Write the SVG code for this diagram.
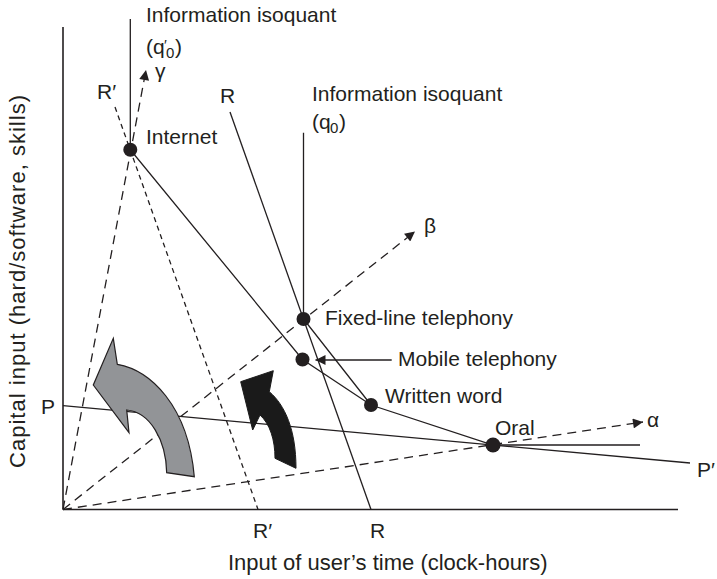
<svg xmlns="http://www.w3.org/2000/svg" width="717" height="579" viewBox="0 0 717 579">
<style>
  .t { font-family: "Liberation Sans", Arial, sans-serif; font-size: 21px; fill: #231f20; }
  .ax { stroke: #231f20; stroke-width: 1.6; fill: none; }
  .ln { stroke: #231f20; stroke-width: 1.3; fill: none; }
  .ray { stroke: #231f20; stroke-width: 1.3; fill: none; stroke-dasharray: 9 6; }
  .rr { stroke: #231f20; stroke-width: 1.3; fill: none; stroke-dasharray: 5 4; }
  .dot { fill: #231f20; }
</style>
<defs>
  <marker id="ah" viewBox="0 0 10 10" refX="10" refY="5" markerWidth="12" markerHeight="10" markerUnits="userSpaceOnUse" orient="auto">
    <path d="M0,0 L10,5 L0,10 Z" fill="#231f20"/>
  </marker>
</defs>
<rect width="717" height="579" fill="#ffffff"/>

<g id="axes">
  <line class="ax" x1="63" y1="27" x2="63" y2="509.5"/>
  <line class="ax" x1="63" y1="509.5" x2="678" y2="509.5"/>
  <text class="t" transform="translate(25,468) rotate(-90)" style="font-size:22px" textLength="373" lengthAdjust="spacing">Capital input (hard/software, skills)</text>
  <text class="t" x="228" y="570" style="font-size:22px">Input of user’s time (clock-hours)</text>
</g>

<g id="connectors">
  <line class="ray" x1="63" y1="509.5" x2="146" y2="70" marker-end="url(#ah)"/>
  <line class="ray" x1="63" y1="509.5" x2="415" y2="231.5" marker-end="url(#ah)"/>
  <line class="ray" x1="63" y1="509.5" x2="643" y2="422" marker-end="url(#ah)"/>
  <line class="rr" x1="115" y1="107" x2="258" y2="509.5"/>
  <line class="ln" x1="230" y1="112" x2="371" y2="509.5"/>
  <line class="ln" x1="63" y1="405.7" x2="690" y2="463"/>
  <polyline class="ln" points="130.3,19 130.3,149.7 302.5,359.5 371,405 493,445 640,445"/>
  <polyline class="ln" points="303.5,132.7 303.5,319 371,405"/>
  <line class="ln" x1="391.7" y1="360" x2="315.5" y2="360" marker-end="url(#ah)"/>
</g>

<g id="arrow-gray">
  <path d="M113.3,338.3 L117.3,364.3 C150,370 188,405 194.3,476.7 L166.7,472.7 C166,440 150,412 126.7,410 L129,432.7 L93.3,385 Z" fill="#929497" stroke="#231f20" stroke-width="1.2" stroke-linejoin="miter"/>
</g>
<g id="arrow-black">
  <path d="M273.3,370.7 L269.3,391.7 C285,405 296,430 296,468.3 L275,458.3 C275,440 270,424 260,415 L252.7,430 L240.7,381.7 Z" fill="#1a1a1a" stroke="#1a1a1a" stroke-width="1"/>
</g>

<g id="node-internet">
  <circle class="dot" cx="130.3" cy="149.7" r="7"/>
  <text class="t" x="146" y="144">Internet</text>
</g>
<g id="node-fixed">
  <circle class="dot" cx="303.5" cy="319" r="7"/>
  <text class="t" x="325" y="325">Fixed-line telephony</text>
</g>
<g id="node-mobile">
  <circle class="dot" cx="302.5" cy="359.5" r="7"/>
  <text class="t" x="398" y="366">Mobile telephony</text>
</g>
<g id="node-written">
  <circle class="dot" cx="371" cy="405" r="7"/>
  <text class="t" x="385" y="403">Written word</text>
</g>
<g id="node-oral">
  <circle class="dot" cx="493" cy="445" r="7.5"/>
  <text class="t" x="495" y="435">Oral</text>
</g>

<g id="labels">
  <text class="t" x="146" y="22">Information isoquant</text>
  <text class="t"><tspan x="146" y="54">(q</tspan><tspan x="164" y="50" style="font-size:15px">′</tspan><tspan x="166" y="58" style="font-size:15px">0</tspan><tspan x="175" y="54">)</tspan></text>
  <text class="t" x="312" y="101">Information isoquant</text>
  <text class="t"><tspan x="312" y="129">(q</tspan><tspan x="330" y="133" style="font-size:15px">0</tspan><tspan x="339" y="129">)</tspan></text>
  <text class="t" x="155" y="78">γ</text>
  <text class="t" x="424" y="233">β</text>
  <text class="t" x="647" y="427">α</text>
  <text class="t" x="97" y="99">R′</text>
  <text class="t" x="220" y="103">R</text>
  <text class="t" x="253" y="538">R′</text>
  <text class="t" x="370" y="538">R</text>
  <text class="t" x="41" y="414">P</text>
  <text class="t" x="697" y="477">P′</text>
</g>
</svg>
